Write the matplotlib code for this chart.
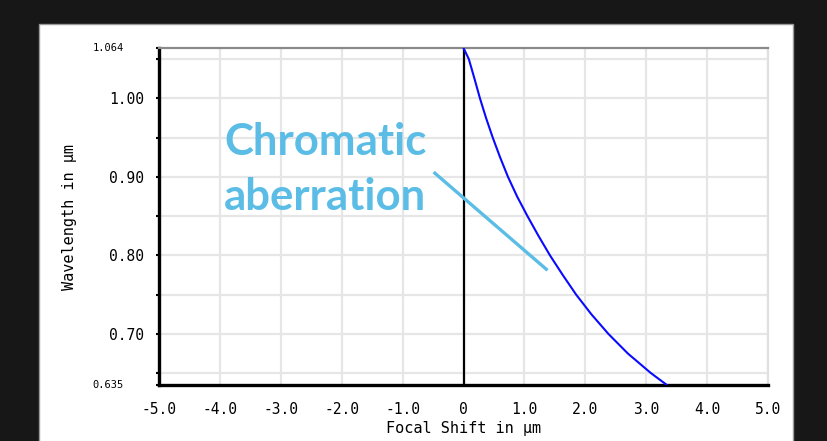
import matplotlib
matplotlib.use("Agg")
import matplotlib.pyplot as plt
from matplotlib.patches import Rectangle

# data
wavelength_um = [1.064, 1.05, 1.025, 1.00, 0.975, 0.95, 0.925, 0.90, 0.875, 0.85,
                 0.825, 0.80, 0.775, 0.75, 0.725, 0.70, 0.675, 0.65, 0.635]
focal_shift_um = [0.00, 0.087, 0.18, 0.27, 0.37, 0.48, 0.60, 0.73, 0.88, 1.05,
                  1.23, 1.42, 1.63, 1.85, 2.10, 2.38, 2.70, 3.08, 3.34]
x_ticks = [-5.0, -4.0, -3.0, -2.0, -1.0, 0.0, 1.0, 2.0, 3.0, 4.0, 5.0]
x_tick_labels = ["-5.0", "-4.0", "-3.0", "-2.0", "-1.0", "0", "1.0", "2.0", "3.0", "4.0", "5.0"]
y_major = [0.70, 0.80, 0.90, 1.00]
y_major_labels = ["0.70", "0.80", "0.90", "1.00"]
y_grid = [0.65, 0.70, 0.75, 0.80, 0.85, 0.90, 0.95, 1.00, 1.05]
y_min, y_max = 0.635, 1.064
y_end_labels = ["0.635", "1.064"]
x_min, x_max = -5.0, 5.0
annot_lines = ["Chromatic", "aberration"]
annot_line_x = [-0.49, 1.38]
annot_line_y = [0.906, 0.781]

W, H = 827, 441
fig = plt.figure(figsize=(W / 100, H / 100), dpi=100)
fig.patch.set_facecolor("#171717")

# white panel
panel = Rectangle((39 / W, -0.05), (793 - 39) / W, 1.05 - 24 / H,
                  transform=fig.transFigure, facecolor="white",
                  edgecolor="#9a9a9a", linewidth=1.0, zorder=-5)
fig.patches.append(panel)

ax = fig.add_axes([159 / W, 1 - 385 / H, (768 - 159) / W, (385 - 48) / H])
ax.set_zorder(2)
ax.set_facecolor("white")
ax.set_xlim(x_min, x_max)
ax.set_ylim(y_min, y_max)

mono = "DejaVu Sans Mono"

# grid
for gx in x_ticks:
    ax.axvline(gx, color="#e6e6e6", lw=1.6, zorder=1)
for gy in y_grid:
    ax.axhline(gy, color="#e6e6e6", lw=1.6, zorder=1)

ax.axvline(0, color="black", lw=1.6, zorder=2)

ax.plot(focal_shift_um, wavelength_um, color="#0a0aff", lw=1.5, zorder=3)

ax.plot(annot_line_x, annot_line_y, color="#5bbde6", lw=2.4, zorder=4,
        solid_capstyle="butt")
ax.text(-2.27, 0.928, annot_lines[0], color="#5bbde6", fontsize=31.5,
        fontweight="bold", family="Lato", ha="center", va="baseline", zorder=5)
ax.text(-2.27, 0.858, annot_lines[1], color="#5bbde6", fontsize=31.5,
        fontweight="bold", family="Lato", ha="center", va="baseline", zorder=5)

ax.set_xticks(x_ticks)
ax.set_xticklabels(x_tick_labels, family=mono, fontsize=10.5)
ax.set_yticks(y_major)
ax.set_yticklabels(y_major_labels, family=mono, fontsize=10.5)
ax.set_yticks(y_grid + [y_min, y_max], minor=True)
ax.tick_params(axis="y", which="both", length=2.5, width=1.5, color="black", pad=8)
ax.tick_params(axis="x", length=0, pad=12)

for v, s in zip([y_min, y_max], y_end_labels):
    ax.annotate(s, xy=(0, v), xycoords=("axes fraction", "data"),
                xytext=(-25.5, 0), textcoords="offset points",
                ha="right", va="center", family=mono, fontsize=7.5)

ax.set_xlabel("Focal Shift in µm", family=mono, fontsize=11, labelpad=3)
ax.set_ylabel("Wavelength in µm", family=mono, fontsize=11, labelpad=23)

ax.spines["left"].set_color("black")
ax.spines["left"].set_linewidth(2.4)
ax.spines["bottom"].set_color("black")
ax.spines["bottom"].set_linewidth(2.4)
ax.spines["top"].set_color("#8a8a8a")
ax.spines["top"].set_linewidth(1.6)
ax.spines["right"].set_color("#e0e0e0")
ax.spines["right"].set_linewidth(1.6)

fig.savefig("out.png", dpi=100, facecolor=fig.get_facecolor())
